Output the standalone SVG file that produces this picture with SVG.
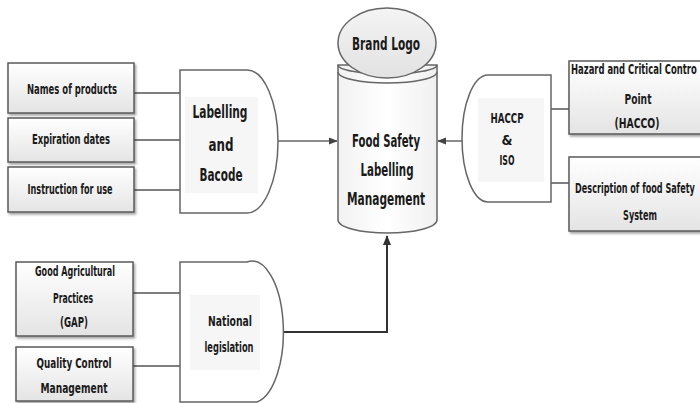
<svg xmlns="http://www.w3.org/2000/svg" width="700" height="403" viewBox="0 0 700 403">
<defs>
<linearGradient id="boxg" x1="0" y1="0" x2="0" y2="1"><stop offset="0" stop-color="#ffffff"/><stop offset="1" stop-color="#e4e4e4"/></linearGradient>
<linearGradient id="logog" x1="0" y1="0" x2="0" y2="1"><stop offset="0" stop-color="#f4f4f4"/><stop offset="1" stop-color="#e2e2e2"/></linearGradient>
<linearGradient id="cylg" x1="0" y1="0" x2="1" y2="0"><stop offset="0" stop-color="#f2f2f2"/><stop offset="0.5" stop-color="#ffffff"/><stop offset="1" stop-color="#f0f0f0"/></linearGradient>
<filter id="sh" x="-10%" y="-10%" width="125%" height="130%"><feDropShadow dx="1.5" dy="2" stdDeviation="1" flood-color="#000" flood-opacity="0.35"/></filter>
<marker id="ah" viewBox="0 0 10 10" refX="9" refY="5" markerWidth="9" markerHeight="9" markerUnits="userSpaceOnUse" orient="auto"><path d="M0,1 L10,5 L0,9 z" fill="#444"/></marker>
<marker id="ah2" viewBox="0 0 10 10" refX="9" refY="5" markerWidth="10" markerHeight="10" markerUnits="userSpaceOnUse" orient="auto"><path d="M0,1 L10,5 L0,9 z" fill="#333"/></marker>
</defs>
<style>
.box{fill:url(#boxg);stroke:#5a5a5a;stroke-width:1.5;filter:url(#sh)}
.shape{fill:#ffffff;stroke:#666;stroke-width:1.5}
.inner{fill:#f6f6f6}
.t{font-family:'DejaVu Sans Condensed','DejaVu Sans','Liberation Sans',sans-serif;font-weight:bold;fill:#1a1a1a;text-anchor:middle;dominant-baseline:central;font-size:14px}
.tb{font-size:18px}
.conn{stroke:#555;stroke-width:1.5;fill:none}
</style>
<rect width="700" height="403" fill="#ffffff"/>

<g id="connectors">
<line class="conn" x1="134" y1="93" x2="180" y2="93"/>
<line class="conn" x1="134" y1="140" x2="180" y2="140"/>
<line class="conn" x1="134" y1="190" x2="180" y2="190"/>
<line class="conn" x1="133" y1="293" x2="180" y2="293"/>
<line class="conn" x1="133" y1="366" x2="180" y2="366"/>
<line class="conn" x1="551" y1="109" x2="569" y2="109"/>
<line class="conn" x1="551" y1="183" x2="569" y2="183"/>
<line x1="278" y1="141" x2="337" y2="141" stroke="#666" stroke-width="1.5" marker-end="url(#ah)"/>
<line x1="462" y1="141" x2="438" y2="141" stroke="#666" stroke-width="1.5" marker-end="url(#ah)"/>
<polyline points="278,332 387,332 387,236" fill="none" stroke="#333" stroke-width="2" marker-end="url(#ah2)"/>
</g>

<g id="names">
<rect class="box" x="8" y="63" width="126" height="50"/>
<text class="t" x="72" y="89" textLength="90" lengthAdjust="spacingAndGlyphs">Names of products</text>
</g>
<g id="expiration">
<rect class="box" x="8" y="118" width="126" height="44"/>
<text class="t" x="71" y="139" textLength="78" lengthAdjust="spacingAndGlyphs">Expiration dates</text>
</g>
<g id="instruction">
<rect class="box" x="8" y="167" width="126" height="45"/>
<text class="t" x="70" y="189" textLength="85" lengthAdjust="spacingAndGlyphs">Instruction for use</text>
</g>

<g id="labelling">
<path class="shape" d="M180,70 L247,70 A31,71.5 0 0 1 247,213 L180,213 Z"/>
<rect class="inner" x="185" y="97" width="73" height="96"/>
<text class="t tb" x="220" y="111" textLength="55" lengthAdjust="spacingAndGlyphs">Labelling</text>
<text class="t tb" x="221" y="144" textLength="25" lengthAdjust="spacingAndGlyphs">and</text>
<text class="t tb" x="221" y="174" textLength="43" lengthAdjust="spacingAndGlyphs">Bacode</text>
</g>

<g id="food-safety">
<path d="M338,65 L338,220 A49.5,13 0 0 0 437,220 L437,65 Z" fill="url(#cylg)" stroke="#666" stroke-width="1.5"/>
<path d="M338,65 A49.5,9 0 0 0 437,65" fill="none" stroke="#666" stroke-width="1.5"/>
<path d="M338,72 A49.5,11 0 0 0 437,72" fill="none" stroke="#666" stroke-width="1.5"/>
<text class="t tb" x="386" y="140" textLength="68" lengthAdjust="spacingAndGlyphs">Food Safety</text>
<text class="t tb" x="387" y="169" textLength="53" lengthAdjust="spacingAndGlyphs">Labelling</text>
<text class="t tb" x="386" y="198" textLength="78" lengthAdjust="spacingAndGlyphs">Management</text>
</g>

<g id="brand-logo">
<ellipse cx="387" cy="43" rx="49" ry="35" fill="url(#logog)" stroke="#666" stroke-width="1.5"/>
<text class="t tb" x="386" y="43" textLength="68" lengthAdjust="spacingAndGlyphs">Brand Logo</text>
</g>

<g id="haccp-iso">
<path class="shape" d="M551,75 L488,75 A26,63.5 0 0 0 488,202 L551,202 Z"/>
<rect class="inner" x="478" y="98" width="66" height="84"/>
<text class="t" x="507" y="118" textLength="33" lengthAdjust="spacingAndGlyphs">HACCP</text>
<text class="t" x="507" y="140">&amp;</text>
<text class="t" x="507" y="160" textLength="15" lengthAdjust="spacingAndGlyphs">ISO</text>
</g>

<g id="hazard">
<rect class="box" x="569" y="61" width="140" height="73"/>
<text class="t" transform="translate(571,69) scale(0.59,1)" x="0" y="0" style="text-anchor:start" textLength="213" lengthAdjust="spacingAndGlyphs">Hazard and Critical Contro</text>
<text class="t" x="638" y="99" textLength="27" lengthAdjust="spacingAndGlyphs">Point</text>
<text class="t" x="637" y="123" textLength="45" lengthAdjust="spacingAndGlyphs">(HACCO)</text>
</g>

<g id="description">
<rect class="box" x="569" y="157" width="140" height="74"/>
<text class="t" transform="translate(635,188) scale(0.59,1)" x="0" y="0" textLength="203" lengthAdjust="spacingAndGlyphs">Description of food Safety</text>
<text class="t" x="640" y="215" textLength="34" lengthAdjust="spacingAndGlyphs">System</text>
</g>

<g id="gap">
<rect class="box" x="16" y="262" width="117" height="74"/>
<text class="t" x="75" y="271" textLength="80" lengthAdjust="spacingAndGlyphs">Good Agricultural</text>
<text class="t" x="73" y="298" textLength="40" lengthAdjust="spacingAndGlyphs">Practices</text>
<text class="t" x="74" y="322" textLength="28" lengthAdjust="spacingAndGlyphs">(GAP)</text>
</g>

<g id="quality">
<rect class="box" x="16" y="347" width="117" height="54"/>
<text class="t" x="74" y="363" textLength="75" lengthAdjust="spacingAndGlyphs">Quality Control</text>
<text class="t" x="74" y="388" textLength="67" lengthAdjust="spacingAndGlyphs">Management</text>
</g>

<g id="national">
<path class="shape" d="M180,262 L247,262 A31,70 0 0 1 257,402 L180,402 Z"/>
<rect class="inner" x="190" y="295" width="70" height="75"/>
<text class="t" x="230" y="321" textLength="44" lengthAdjust="spacingAndGlyphs">National</text>
<text class="t" x="229" y="347" textLength="49" lengthAdjust="spacingAndGlyphs">legislation</text>
</g>
</svg>
